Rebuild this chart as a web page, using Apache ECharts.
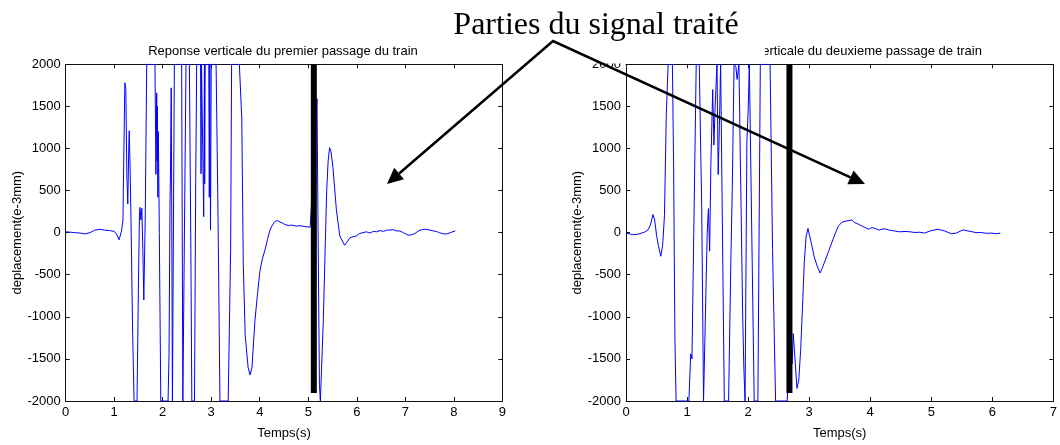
<!DOCTYPE html>
<html>
<head>
<meta charset="utf-8">
<script src="https://cdn.jsdelivr.net/npm/echarts@6/dist/echarts.min.js"></script>
<style>
  html, body { margin: 0; padding: 0; background: #fff; }
  #chart { width: 1060px; height: 445px; }
</style>
</head>
<body>
<div id="chart"></div>
<script>
// Vertical displacement (e-3 mm) against time (s), first train passage
const firstPassTime = [
  0, 0.1, 0.2, 0.3, 0.4, 0.5, 0.6, 0.7, 0.8, 0.9, 1.0, 1.05, 1.1, 1.15, 1.18,
  1.2, 1.22, 1.24, 1.26, 1.28, 1.3, 1.31, 1.33, 1.35, 1.38, 1.41, 1.47, 1.5,
  1.52, 1.53, 1.55, 1.57, 1.59, 1.61, 1.64, 1.67, 1.84, 1.86, 1.875, 1.885,
  1.89, 1.9, 1.91, 1.93, 1.96, 2.11, 2.13, 2.15, 2.16, 2.175, 2.185, 2.2,
  2.215, 2.24, 2.39, 2.415, 2.455, 2.48, 2.55, 2.58, 2.6, 2.655, 2.68, 2.7,
  2.78, 2.79, 2.8, 2.835, 2.845, 2.86, 2.865, 2.875, 2.95, 2.96, 2.97, 2.985,
  3.0, 3.1, 3.14, 3.18, 3.35, 3.4, 3.42, 3.58, 3.63, 3.66, 3.7, 3.76, 3.8,
  3.84, 3.9, 3.95, 4.0, 4.05, 4.11, 4.16, 4.21, 4.26, 4.31, 4.36, 4.42, 4.47,
  4.52, 4.6, 4.66, 4.75, 4.83, 4.93, 5.04, 5.08, 5.15, 5.18, 5.2, 5.23, 5.25,
  5.28, 5.31, 5.38, 5.41, 5.44, 5.47, 5.51, 5.58, 5.65, 5.75, 5.8, 5.86, 5.92,
  5.99, 6.06, 6.13, 6.2, 6.27, 6.34, 6.41, 6.48, 6.55, 6.62, 6.68, 6.75, 6.82,
  6.89, 6.96, 7.06, 7.13, 7.2, 7.27, 7.34, 7.42, 7.51, 7.58, 7.64, 7.7, 7.79,
  7.86, 7.95, 8.03
];
const firstPassDisp = [
  10, 5, 0, -5, -15, 0, 30, 40, 30, 25, 15, -20, -85, 20, 150,
  1000, 1780, 1700, 700, 340, 1000, 1210, 700, 0, -1200, -2000, -2000, -600,
  200, 300, 150, 290, -200, -800, 200, 2000, 2000, 693, 1660, 850,
  1500, 421, 1200, 0, -2000, -2000, -1450, 340, 690, 1720, 400, -2000,
  -2000, 2000, 2000, -2000, -2000, 2000, 2000, -200, -2000, -2000, 600, 2000,
  2000, 700, 2000, 2000, 190, 2000, 580, 2000, 2000, 420, 2000, 30,
  2000, 2000, 190, -2000, -2000, -200, 2000, 2000, 1350, -360, -1220, -1600, -1690,
  -1600, -1050, -750, -470, -320, -200, -80, 30, 90, 130, 145, 125, 115,
  95, 85, 90, 78, 82, 72, 65, 60, 1200, 1590, 200, -1800, -2000,
  -2000, -1050, 500, 850, 1011, 960, 770, 270, -40, -150, -110, -60, -50,
  -40, -10, 0, 10, -5, 15, 10, 25, 15, 30, 30, 35, 20,
  20, 0, -30, -25, -10, 20, 35, 40, 30, 20, 15, 0, -15,
  -15, 5, 20
];

// Second train passage
const secondPassTime = [
  0, 0.06, 0.12, 0.2, 0.3, 0.36, 0.4, 0.44, 0.47, 0.5, 0.53, 0.57, 0.6, 0.63,
  0.66, 0.69, 0.76, 0.78, 0.8, 0.82, 1.03, 1.06, 1.08, 1.11, 1.15, 1.2, 1.24,
  1.27, 1.29, 1.33, 1.35, 1.37, 1.39, 1.42, 1.44, 1.46, 1.49, 1.5, 1.51, 1.53,
  1.55, 1.58, 1.61, 1.68, 1.72, 1.74, 1.77, 1.8, 1.82, 1.85, 1.88, 1.91, 1.93,
  1.95, 1.96, 1.98, 2.0, 2.02, 2.05, 2.1, 2.16, 2.2, 2.36, 2.4, 2.45, 2.64,
  2.7, 2.72, 2.74, 2.8, 2.83, 2.86, 2.89, 2.92, 2.95, 2.98, 3.0, 3.04, 3.08,
  3.13, 3.18, 3.21, 3.27, 3.32, 3.37, 3.43, 3.48, 3.54, 3.62, 3.7, 3.74, 3.78,
  3.86, 3.92, 3.97, 4.03, 4.08, 4.14, 4.19, 4.25, 4.3, 4.35, 4.4, 4.48, 4.57,
  4.65, 4.73, 4.81, 4.89, 5.0, 5.11, 5.22, 5.33, 5.41, 5.52, 5.6, 5.65, 5.73,
  5.81, 5.9, 5.98, 6.06, 6.13
];
const secondPassDisp = [
  -5, -15, -25, -18, 5, 33, 90, 215, 150, -30, -150, -280, -150, 200,
  1400, 2000, 2000, 800, -1200, -2000, -2000, -1440, -1500, 0, 2000, 2000, 300,
  -2000, -2000, 0, 285, -220, 800, 1700, 1040, 1500, 2000, 2000, 690, 1270,
  2000, 2000, -2000, -2000, -240, 500, 2000, 1970, 1820, 2000, 2000, -940, -1600,
  -2000, -2000, 1080, 1430, 2000, 2000, -2000, -2000, 2000, 2000, -200, -2000, -2000,
  -1150, -1560, -1200, -1850, -1750, -1400, -900, -355, -45, 50, 35, -140, -280,
  -395, -480, -430, -315, -220, -120, -5, 80, 126, 140, 150, 120, 110,
  80, 60, 40, 60, 50, 30, 40, 45, 33, 25, 20, 10, 14,
  10, 2, 5, -5, 25, 40, 20, -13, -5, 33, 20, 14, 0,
  2, -8, -5, -13, -5
];

// Thick black markers separating the treated part of each signal
const firstCutTime = 5.115;
const secondCutTime = 2.677;
const cutTop = 2000;
const cutBottom = -1905;

const yMin = -2000, yMax = 2000, yStep = 500;
const firstXMax = 9, secondXMax = 7;

const firstTitle = 'Reponse verticale du premier passage du train';
const secondTitle = 'Reponse verticale du deuxieme passage de train';
const xName = 'Temps(s)';
const yName = 'deplacement(e-3mm)';
const noteText = 'Parties du signal traité';

const pairs = (ts, vs) => ts.map((t, i) => [t, vs[i]]);

const FONT = 'Liberation Sans';
const FS = 13;
const frameLine = { show: true, onZero: false, lineStyle: { color: '#111', width: 1 } };
const innerTick = { show: true, inside: true, length: 4, lineStyle: { color: '#111', width: 1 } };

function xAxes(gridIndex, xMax) {
  return [
    {
      type: 'value', gridIndex, position: 'bottom', min: 0, max: xMax, interval: 1,
      axisLine: frameLine, axisTick: innerTick, splitLine: { show: false },
      axisLabel: { color: '#000', fontFamily: FONT, fontSize: FS, margin: 5, formatter: v => String(v) },
      name: xName, nameLocation: 'middle', nameGap: 26,
      nameTextStyle: { color: '#000', fontFamily: FONT, fontSize: FS }
    },
    {
      type: 'value', gridIndex, position: 'top', min: 0, max: xMax, interval: 1,
      axisLine: frameLine, axisTick: innerTick, splitLine: { show: false },
      axisLabel: { show: false }
    }
  ];
}
function yAxes(gridIndex) {
  return [
    {
      type: 'value', gridIndex, position: 'left', min: yMin, max: yMax, interval: yStep,
      axisLine: frameLine, axisTick: innerTick, splitLine: { show: false },
      axisLabel: { color: '#000', fontFamily: FONT, fontSize: FS, margin: 5, formatter: v => String(v) },
      name: yName, nameLocation: 'middle', nameGap: 41, nameRotate: 90,
      nameTextStyle: { color: '#000', fontFamily: FONT, fontSize: FS }
    },
    {
      type: 'value', gridIndex, position: 'right', min: yMin, max: yMax, interval: yStep,
      axisLine: frameLine, axisTick: innerTick, splitLine: { show: false },
      axisLabel: { show: false }
    }
  ];
}

const chart = echarts.init(document.getElementById('chart'), null, { renderer: 'canvas' });

// Callout: two arrows from below the note text to the treated parts
const apex = [553, 41];
const tips = [[387, 184], [865, 184]];
const headLen = 16, headHalf = 7.5;
function arrowParts(tip) {
  const dx = tip[0] - apex[0], dy = tip[1] - apex[1];
  const len = Math.hypot(dx, dy);
  const ux = dx / len, uy = dy / len;
  const base = [tip[0] - ux * headLen, tip[1] - uy * headLen];
  const head = [tip, [base[0] - uy * headHalf, base[1] + ux * headHalf], [base[0] + uy * headHalf, base[1] - ux * headHalf]];
  return { base, head };
}
const left = arrowParts(tips[0]);
const right = arrowParts(tips[1]);

chart.setOption({
  animation: false,
  backgroundColor: '#fff',
  title: [
    { text: firstTitle, left: 283, top: 45, textAlign: 'center', padding: 0,
      textStyle: { color: '#000', fontFamily: FONT, fontSize: FS, fontWeight: 'normal' } },
    { text: secondTitle, left: 841, top: 45, textAlign: 'center', padding: 0,
      textStyle: { color: '#000', fontFamily: FONT, fontSize: FS, fontWeight: 'normal' } }
  ],
  grid: [
    { left: 65.7, top: 64.3, width: 436.6, height: 343.7, containLabel: false },
    { left: 626, top: 64.3, width: 430.2, height: 343.7, containLabel: false }
  ],
  xAxis: [...xAxes(0, firstXMax), ...xAxes(1, secondXMax)],
  yAxis: [...yAxes(0), ...yAxes(1)],
  series: [
    {
      type: 'line', xAxisIndex: 0, yAxisIndex: 0, data: pairs(firstPassTime, firstPassDisp),
      showSymbol: false, clip: true, lineStyle: { color: '#0000ff', width: 1 }, z: 2
    },
    {
      type: 'line', xAxisIndex: 2, yAxisIndex: 2, data: pairs(secondPassTime, secondPassDisp),
      showSymbol: false, clip: true, lineStyle: { color: '#0000ff', width: 1 }, z: 2
    },
    {
      type: 'line', xAxisIndex: 0, yAxisIndex: 0,
      data: [[firstCutTime, cutTop], [firstCutTime, cutBottom]],
      showSymbol: false, lineStyle: { color: '#000', width: 6, cap: 'butt' }, z: 3
    },
    {
      type: 'line', xAxisIndex: 2, yAxisIndex: 2,
      data: [[secondCutTime, cutTop], [secondCutTime, cutBottom]],
      showSymbol: false, lineStyle: { color: '#000', width: 6, cap: 'butt' }, z: 3
    }
  ],
  graphic: [
    { type: 'rect', z: 100, shape: { x: 433, y: 0, width: 332, height: 63.6 }, style: { fill: '#fff' } },
    { type: 'text', z: 101, style: {
        text: noteText, x: 596, y: 26, align: 'center', verticalAlign: 'middle',
        font: '32px "Liberation Serif"', fill: '#000' } },
    { type: 'polyline', z: 102, shape: { points: [left.base, apex, right.base] },
      style: { stroke: '#000', lineWidth: 2.5, fill: null, lineJoin: 'miter' } },
    { type: 'polygon', z: 102, shape: { points: left.head }, style: { fill: '#000' } },
    { type: 'polygon', z: 102, shape: { points: right.head }, style: { fill: '#000' } }
  ]
});
</script>
</body>
</html>
